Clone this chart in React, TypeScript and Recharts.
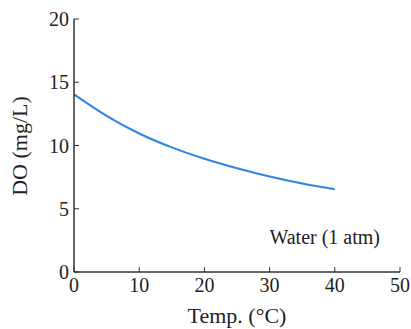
import { Label, Line, LineChart, XAxis, YAxis } from 'recharts'

const temps = [0, 5, 10, 15, 20, 25, 30, 35, 40]
const doValues = [14.05, 12.35, 10.95, 9.85, 8.95, 8.2, 7.55, 7.0, 6.55]
const xTicks = [0, 10, 20, 30, 40, 50]
const yTicks = [0, 5, 10, 15, 20]

const data = temps.map((t, i) => ({ temp: t, value: doValues[i] }))

const FONT = '"Liberation Serif", "DejaVu Serif", serif'
const AXIS = '#333'
const TICK = 5

const BottomTick = ({ x, y, payload }: any) => (
  <g>
    <line x1={x} y1={y} x2={x} y2={y - TICK} stroke={AXIS} strokeWidth={1} />
    <text x={x} y={y + 20} textAnchor="middle" fontFamily={FONT} fontSize={20} fill="#222">
      {payload.value}
    </text>
  </g>
)

const TopTick = ({ x, y }: any) => <line x1={x} y1={y} x2={x} y2={y + TICK} stroke={AXIS} strokeWidth={1} />

const LeftTick = ({ x, y, payload }: any) => (
  <g>
    <line x1={x} y1={y} x2={x + TICK} y2={y} stroke={AXIS} strokeWidth={1} />
    <text x={x - 5} y={y + 7} textAnchor="end" fontFamily={FONT} fontSize={20} fill="#222">
      {payload.value}
    </text>
  </g>
)

const RightTick = ({ x, y }: any) => <line x1={x} y1={y} x2={x - TICK} y2={y} stroke={AXIS} strokeWidth={1} />

export default function App() {
  return (
    <div style={{ position: 'absolute', left: 0, top: 0, width: 411, height: 329, background: '#fff' }}>
      <LineChart width={411} height={329} data={data} margin={{ top: 19, right: 11, bottom: 0, left: 0 }}>
        <XAxis
          dataKey="temp"
          type="number"
          domain={[0, 50]}
          ticks={xTicks}
          height={57}
          tickSize={0}
          tickMargin={0}
          tick={<BottomTick />}
          axisLine={{ stroke: AXIS, strokeWidth: 1.5 }}
        >
          <Label
            content={() => (
              <text x={237} y={323} textAnchor="middle" fontFamily={FONT} fontSize={22} fill="#222">
                Temp. (°C)
              </text>
            )}
          />
        </XAxis>
        <XAxis
          xAxisId="top"
          orientation="top"
          dataKey="temp"
          type="number"
          domain={[0, 50]}
          ticks={xTicks}
          height={0}
          tickSize={0}
          tickMargin={0}
          tick={<TopTick />}
          axisLine={{ stroke: AXIS, strokeWidth: 1.5 }}
        />
        <YAxis
          type="number"
          domain={[0, 20]}
          ticks={yTicks}
          width={74}
          tickSize={0}
          tickMargin={0}
          tick={<LeftTick />}
          axisLine={{ stroke: AXIS, strokeWidth: 1.5 }}
        >
          <Label
            content={() => (
              <text
                x={27}
                y={146}
                transform="rotate(-90 27 146)"
                textAnchor="middle"
                fontFamily={FONT}
                fontSize={22}
                fill="#222"
              >
                DO (mg/L)
              </text>
            )}
          />
        </YAxis>
        <YAxis
          yAxisId="right"
          orientation="right"
          type="number"
          domain={[0, 20]}
          ticks={yTicks}
          width={0}
          tickSize={0}
          tickMargin={0}
          tick={<RightTick />}
          axisLine={{ stroke: AXIS, strokeWidth: 1.5 }}
        />
        <Line
          type="monotone"
          dataKey="value"
          stroke="#2b86e3"
          strokeWidth={2}
          dot={false}
          isAnimationActive={false}
        />
      </LineChart>
      <div
        style={{
          position: 'absolute',
          right: 31,
          top: 226,
          fontFamily: FONT,
          fontSize: 20,
          color: '#222',
          whiteSpace: 'nowrap',
        }}
      >
        Water (1 atm)
      </div>
    </div>
  )
}
